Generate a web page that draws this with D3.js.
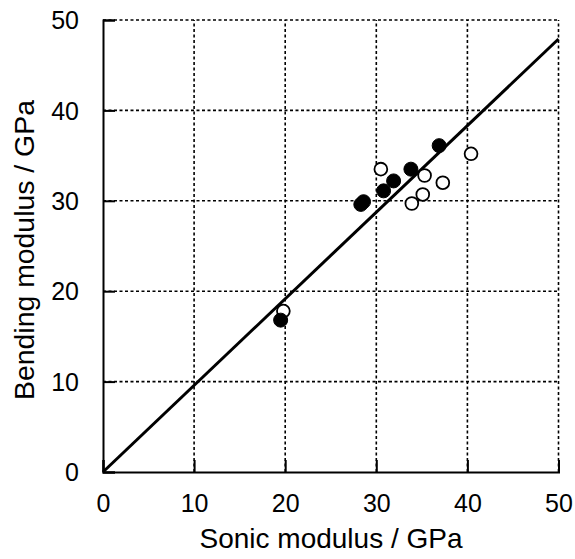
<!DOCTYPE html>
<html>
<head>
<meta charset="utf-8">
<script src="https://cdn.jsdelivr.net/npm/d3@7"></script>
<style>
  html, body { margin: 0; padding: 0; background: #fff; }
  svg { display: block; }
  text { font-family: "Liberation Sans", Arial, Helvetica, sans-serif; fill: #000; }
</style>
</head>
<body>
<svg id="chart" width="575" height="559"></svg>
<script>
// ---- data ----
const xTicks = [0, 10, 20, 30, 40, 50];
const yTicks = [0, 10, 20, 30, 40, 50];
const xTitle = "Sonic modulus / GPa";
const yTitle = "Bending modulus / GPa";
// filled circles (sonic, bending)
const filledSonic   = [36.9, 33.8, 31.9, 30.8, 28.6, 28.3, 19.5];
const filledBending = [36.1, 33.5, 32.2, 31.1, 29.9, 29.6, 16.8];
// open circles
const openSonic   = [30.5, 35.3, 37.3, 35.1, 33.9, 40.4, 19.8];
const openBending = [33.5, 32.8, 32.0, 30.7, 29.7, 35.2, 17.8];
// fitted line endpoints
const lineX = [0, 50];
const lineY = [0, 47.9];

// ---- layout ----
const svg = d3.select("#chart");
const L = 103, R = 558.5, T = 20, B = 472;
const x = d3.scaleLinear().domain([0, 50]).range([L, R]);
const y = d3.scaleLinear().domain([0, 50]).range([B, T]);

const g = svg.append("g");

// grid (dotted)
g.selectAll(".gx").data(xTicks.filter(d => d > 0)).enter().append("line")
  .attr("x1", d => x(d)).attr("x2", d => x(d)).attr("y1", B).attr("y2", T)
  .attr("stroke", "#000").attr("stroke-width", 1.6).attr("stroke-dasharray", "3,2.5");
g.selectAll(".gy").data(yTicks.filter(d => d > 0)).enter().append("line")
  .attr("y1", d => y(d)).attr("y2", d => y(d)).attr("x1", L).attr("x2", R)
  .attr("stroke", "#000").attr("stroke-width", 1.6).attr("stroke-dasharray", "3,2.5");

// axes with inward ticks
const xAxis = d3.axisBottom(x).tickValues(xTicks).tickSize(-12).tickPadding(22).tickFormat(d3.format("d"));
const yAxis = d3.axisLeft(y).tickValues(yTicks).tickSize(-12).tickPadding(24).tickFormat(d3.format("d"));

const gx = svg.append("g").attr("transform", `translate(0,${B})`).call(xAxis);
const gy = svg.append("g").attr("transform", `translate(${L},0)`).call(yAxis);
[gx, gy].forEach(a => {
  a.select(".domain").attr("stroke", "#000").attr("stroke-width", 2);
  a.selectAll(".tick line").attr("stroke", "#000").attr("stroke-width", 2);
  a.selectAll(".tick text").attr("font-size", 25).attr("font-family", "Liberation Sans, Arial, sans-serif").attr("fill", "#000");
});
gx.selectAll(".tick text").attr("dy", "0.71em");
gy.selectAll(".tick text").attr("dy", "0.35em");

// fitted line
svg.append("line")
  .attr("x1", x(lineX[0])).attr("y1", y(lineY[0]))
  .attr("x2", x(lineX[1])).attr("y2", y(lineY[1]))
  .attr("stroke", "#000").attr("stroke-width", 3);

// points
const filled = filledSonic.map((d, i) => ({ sx: d, by: filledBending[i] }));
const open = openSonic.map((d, i) => ({ sx: d, by: openBending[i] }));

svg.selectAll(".open").data(open).enter().append("circle")
  .attr("cx", d => x(d.sx)).attr("cy", d => y(d.by)).attr("r", 6.4)
  .attr("fill", "#fff").attr("stroke", "#000").attr("stroke-width", 1.8);
svg.selectAll(".filled").data(filled).enter().append("circle")
  .attr("cx", d => x(d.sx)).attr("cy", d => y(d.by)).attr("r", 7)
  .attr("fill", "#000").attr("stroke", "#000").attr("stroke-width", 1);

// titles
svg.append("text").attr("x", 331).attr("y", 548).attr("text-anchor", "middle")
  .attr("font-size", 28).text(xTitle);
svg.append("text").attr("transform", `translate(34,250) rotate(-90)`).attr("text-anchor", "middle")
  .attr("font-size", 28.4).text(yTitle);
</script>
</body>
</html>
